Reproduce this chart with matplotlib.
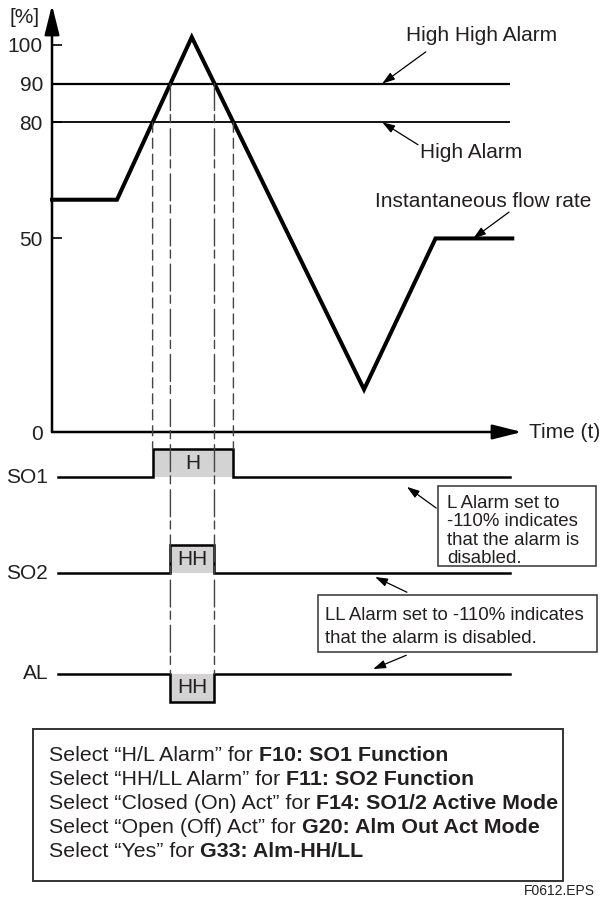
import numpy as np
import matplotlib
matplotlib.use("Agg")
from matplotlib import pyplot as plt
from matplotlib.patches import Rectangle, ConnectionPatch

plt.rcParams['font.family'] = ['Liberation Sans', 'DejaVu Sans']

# instantaneous flow rate (time in arbitrary units, value in %)
flow_t = [0, 10, 21.5, 48, 59, 70.8]
flow_pct = [60, 60, 102, 11, 50, 50]

y_ticks = [0, 50, 80, 90, 100]
high_alarm = 80
high_high_alarm = 90

signal_names = ['SO1', 'SO2', 'AL']
signal_marks = ['H', 'HH', 'HH']
signal_levels = [high_alarm, high_high_alarm, high_high_alarm]
signal_sense = [1, 1, -1]  # SO1/2 closed (on) act, AL open (off) act

note_l = ['L Alarm set to', '-110% indicates', 'that the alarm is', 'disabled.']
note_ll = ['LL Alarm set to -110% indicates', 'that the alarm is disabled.']

setup_plain = ['Select “H/L Alarm” for',
               'Select “HH/LL Alarm” for',
               'Select “Closed (On) Act” for',
               'Select “Open (Off) Act” for',
               'Select “Yes” for']
setup_bold = ['F10: SO1 Function',
              'F11: SO2 Function',
              'F14: SO1/2 Active Mode',
              'G20: Alm Out Act Mode',
              'G33: Alm-HH/LL']

INK = '#231f20'
W, H = 600, 897


def fx(x):
    return x / W


def fy(y):
    return 1 - y / H


def crossings(level):
    t = np.asarray(flow_t, float)
    v = np.asarray(flow_pct, float) - level
    out = []
    for i in range(len(t) - 1):
        if v[i] * v[i + 1] < 0:
            out.append(t[i] + (t[i + 1] - t[i]) * v[i] / (v[i] - v[i + 1]))
    return out


fig = plt.figure(figsize=(W / 100, H / 100), dpi=100)

# main trend chart
ax = fig.add_axes([fx(52), fy(432), fx(522) - fx(52), fy(5) - fy(432)])
ax.set_xlim(0, 72.3)
ax.set_ylim(0, 110.3)
for s in ax.spines.values():
    s.set_visible(False)
ax.patch.set_visible(False)
ax.set_xticks([])
ax.set_yticks(y_ticks)
ax.tick_params(axis='y', direction='in', length=7, width=1.2, pad=6.5,
               labelsize=15, labelcolor=INK)

axis_arrow = dict(arrowstyle='-|>,head_length=1.8,head_width=0.45', lw=1.8,
                  color='k', shrinkA=0, shrinkB=0)
ax.annotate('', xy=(0, 110.3), xytext=(0, 0), arrowprops=axis_arrow,
            annotation_clip=False)
ax.annotate('', xy=(72.3, 0), xytext=(0, 0), arrowprops=axis_arrow,
            annotation_clip=False)
ax.text(-1.9, 107, '[%]', ha='right', va='center', fontsize=15, color=INK)
ax.text(73.4, 0, 'Time (t)', ha='left', va='center', fontsize=15, color=INK)

ax.hlines(high_high_alarm, 0, 70.5, color='k', lw=1.6)
ax.hlines(high_alarm, 0, 70.5, color='k', lw=1.3)
ax.plot(flow_t, flow_pct, color='k', lw=2.9, solid_joinstyle='miter',
        clip_on=False, zorder=3)

thin_arrow = dict(arrowstyle='-|>,head_length=0.75,head_width=0.25', lw=0.9,
                  color='k', shrinkA=0, shrinkB=0)
ax.annotate('', xy=(50.8, 90), xytext=(57.5, 98.2), arrowprops=thin_arrow)
ax.annotate('', xy=(50.8, 80), xytext=(56.3, 74.2), arrowprops=thin_arrow)
ax.annotate('', xy=(64.8, 50), xytext=(70.3, 56.8), arrowprops=thin_arrow)
ax.text(54.5, 100.9, 'High High Alarm', fontsize=15, color=INK, va='baseline')
ax.text(56.6, 70.8, 'High Alarm', fontsize=15, color=INK, va='baseline')
ax.text(49.7, 58.1, 'Instantaneous flow rate', fontsize=15, color=INK,
        va='baseline')

# switch outputs
sx = fig.add_axes([fx(52), fy(712), fx(522) - fx(52), fy(432) - fy(712)],
                  sharex=ax)
sx.set_ylim(-2.386, 0.457)
sx.axis('off')
row_y = [0, -0.975, -2.0]
pulse_h = 0.284

for i, name in enumerate(signal_names):
    on, off = crossings(signal_levels[i])
    b = row_y[i]
    top = b + signal_sense[i] * pulse_h
    sx.fill_between([on, off], b, top, color='#d3d3d3', lw=0)
    sx.plot([0.9, on, on, off, off, 70.5], [b, b, top, top, b, b],
            color='k', lw=1.8, solid_joinstyle='miter')
    sx.text((on + off) / 2, (b + top) / 2, signal_marks[i], ha='center',
            va='center', fontsize=15, color=INK)
    sx.text(-0.6, b, name, ha='right', va='center', fontsize=15, color=INK)

# dashed guides from alarm crossings down to the outputs
for t in crossings(high_alarm):
    fig.add_artist(ConnectionPatch((t, high_alarm), (t, row_y[0] + pulse_h),
                                   coordsA=ax.transData, coordsB=sx.transData,
                                   color='#444444', lw=1.0,
                                   linestyle=(0, (7.2, 4.3))))
for t in crossings(high_high_alarm):
    fig.add_artist(ConnectionPatch((t, high_high_alarm), (t, row_y[2]),
                                   coordsA=ax.transData, coordsB=sx.transData,
                                   color='#444444', lw=1.0,
                                   linestyle=(0, (19.4, 3, 5.8, 4.3))))

sx.annotate('', xy=(54.6, -0.10), xytext=(59.1, -0.315), arrowprops=thin_arrow)
sx.annotate('', xy=(49.7, -1.015), xytext=(54.6, -1.17), arrowprops=thin_arrow)
sx.annotate('', xy=(49.4, -1.95), xytext=(54.5, -1.81), arrowprops=thin_arrow)

# note boxes
def box(x0, y0, x1, y1, lw):
    fig.add_artist(Rectangle((fx(x0), fy(y1)), fx(x1) - fx(x0), fy(y0) - fy(y1),
                             transform=fig.transFigure, fill=False,
                             edgecolor='#333333', lw=lw))


box(438, 486, 596, 566, 1.1)
for line, y in zip(note_l, [508, 526.3, 544.6, 562.9]):
    fig.text(fx(447), fy(y), line, fontsize=13.4, color=INK, va='baseline')

box(318, 595, 597, 652, 1.1)
for line, y in zip(note_ll, [620, 643]):
    fig.text(fx(325), fy(y), line, fontsize=13.4, color=INK, va='baseline')

box(33, 729, 563, 881, 1.4)
renderer = fig.canvas.get_renderer()
setup_size = 15.4
space_px = 0.278 * setup_size / 0.72
for plain, bold, y in zip(setup_plain, setup_bold, [761, 785, 809, 833, 857]):
    t1 = fig.text(fx(49), fy(y), plain, fontsize=setup_size, color=INK,
                  va='baseline')
    x1 = t1.get_window_extent(renderer).x1
    fig.text((x1 + space_px) / W, fy(y), bold, fontsize=setup_size, color=INK,
             va='baseline', fontweight='bold')

fig.text(fx(595), fy(895), 'F0612.EPS', fontsize=10, color=INK, ha='right',
         va='baseline')

fig.savefig('out.png', dpi=100)
